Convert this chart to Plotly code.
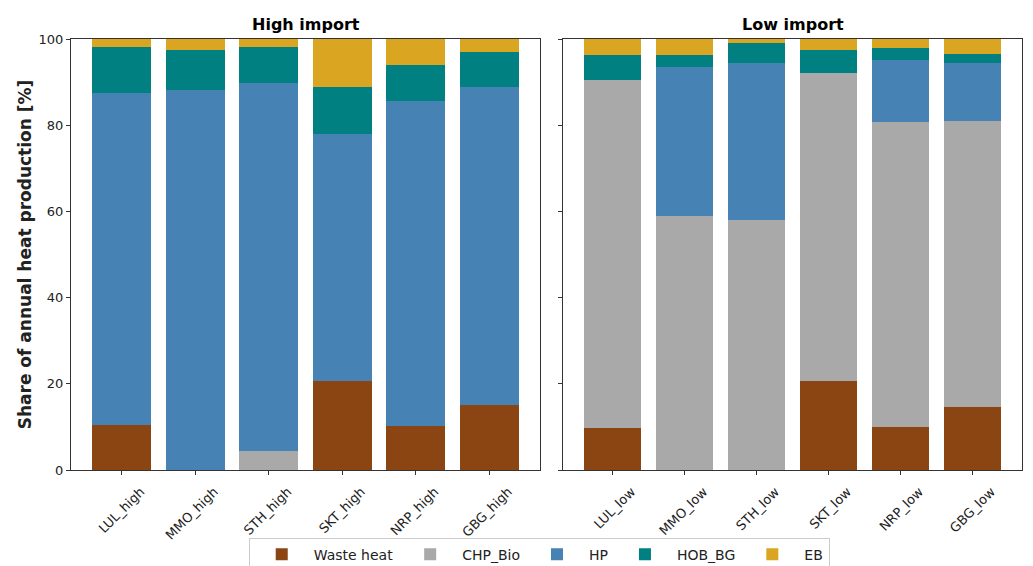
import plotly.graph_objects as go

high_cats = ["LUL_high", "MMO_high", "STH_high", "SKT_high", "NRP_high", "GBG_high"]
low_cats = ["LUL_low", "MMO_low", "STH_low", "SKT_low", "NRP_low", "GBG_low"]

techs = ["Waste heat", "CHP_Bio", "HP", "HOB_BG", "EB"]
colors = ["#8B4513", "#A9A9A9", "#4682B4", "#008080", "#DAA520"]

# High import shares [%]
high_waste = [10.5, 0.0, 0.0, 20.6, 10.3, 15.1]
high_chp = [0.0, 0.0, 4.5, 0.0, 0.0, 0.0]
high_hp = [77.0, 88.2, 85.2, 57.4, 75.3, 73.7]
high_hob = [10.6, 9.2, 8.4, 10.8, 8.4, 8.1]
high_eb = [1.9, 2.6, 1.9, 11.2, 6.0, 3.1]

# Low import shares [%]
low_waste = [9.7, 0.0, 0.0, 20.6, 10.0, 14.6]
low_chp = [80.9, 58.9, 58.0, 71.4, 70.7, 66.4]
low_hp = [0.0, 34.7, 36.5, 0.0, 14.4, 13.4]
low_hob = [5.6, 2.8, 4.6, 5.5, 2.7, 2.2]
low_eb = [3.8, 3.6, 0.9, 2.5, 2.2, 3.4]

high_series = [high_waste, high_chp, high_hp, high_hob, high_eb]
low_series = [low_waste, low_chp, low_hp, low_hob, low_eb]

fig = go.Figure()
for name, col, hv, lv in zip(techs, colors, high_series, low_series):
    fig.add_trace(go.Bar(x=high_cats, y=hv, name=name, marker_color=col,
                         marker_line_width=0, width=0.8, xaxis="x", yaxis="y",
                         legendgroup=name, showlegend=True))
    fig.add_trace(go.Bar(x=low_cats, y=lv, name=name, marker_color=col,
                         marker_line_width=0, width=0.8, xaxis="x2", yaxis="y2",
                         legendgroup=name, showlegend=False))

axis_common = dict(showline=True, linecolor="#333333", linewidth=1, mirror=True,
                   ticks="outside", ticklen=4, tickcolor="#333333",
                   showgrid=False, zeroline=False, automargin=False)
font_family = "DejaVu Sans"

fig.update_layout(
    barmode="stack",
    width=1033, height=566,
    margin=dict(l=0, r=0, t=0, b=0, autoexpand=False),
    paper_bgcolor="white", plot_bgcolor="white",
    font=dict(family=font_family, color="#222222", size=12),
    xaxis=dict(domain=[71/1033, 540/1033], range=[-0.69, 5.69], tickangle=-45,
               ticklabelshift=19, ticklabelstandoff=4, tickfont=dict(size=13), anchor="y", **axis_common),
    xaxis2=dict(domain=[563/1033, 1022/1033], range=[-0.69, 5.69], tickangle=-45,
                ticklabelshift=19, ticklabelstandoff=4, tickfont=dict(size=13), anchor="y2", **axis_common),
    yaxis=dict(domain=[1-470/566, 1-39/566], range=[0, 100], tickvals=[0, 20, 40, 60, 80, 100],
               tickfont=dict(size=13), anchor="x",
               title=dict(text="<b>Share of annual heat production [%]</b>", font=dict(size=17), standoff=2),
               **axis_common),
    yaxis2=dict(domain=[1-470/566, 1-39/566], range=[0, 100], tickvals=[0, 20, 40, 60, 80, 100],
                showticklabels=False, anchor="x2", matches="y", **axis_common),
    legend=dict(orientation="h", x=0.522, xanchor="center", y=-0.01, yanchor="bottom",
                bordercolor="#cccccc", borderwidth=1, bgcolor="white",
                font=dict(size=14), traceorder="normal", itemwidth=54),
    annotations=[
        dict(text="<b>High import</b>", x=(71+540)/2/1033, y=1-25/566, xref="paper", yref="paper",
             showarrow=False, font=dict(size=16, color="black"), xanchor="center", yanchor="middle"),
        dict(text="<b>Low import</b>", x=(563+1022)/2/1033, y=1-25/566, xref="paper", yref="paper",
             showarrow=False, font=dict(size=16, color="black"), xanchor="center", yanchor="middle"),
    ],
)

fig.write_html("out.html", config={"displayModeBar": False},
               post_script="document.body.style.margin='0';document.body.style.overflow='hidden';")
